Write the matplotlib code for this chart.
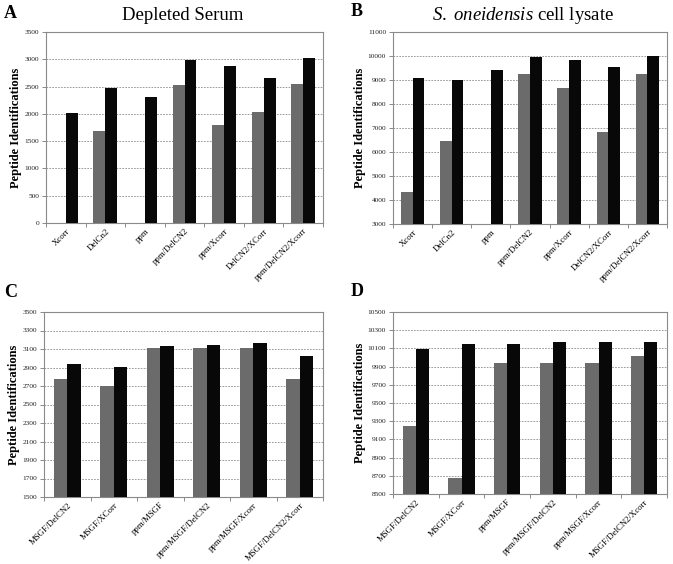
import matplotlib
matplotlib.use("Agg")
import matplotlib.pyplot as plt
import numpy as np

W, H = 673, 564

cats_ab = ["Xcorr", "DelCn2", "ppm", "ppm/DelCN2", "ppm/Xcorr", "DelCN2/XCorr", "ppm/DelCN2/Xcorr"]
cats_cd = ["MSGF/DelCN2", "MSGF/XCorr", "ppm/MSGF", "ppm/MSGF/DelCN2", "ppm/MSGF/Xcorr", "MSGF/DelCN2/Xcorr"]

a_gray = [0, 1680, 0, 2530, 1790, 2030, 2550]
a_black = [2020, 2470, 2310, 2980, 2880, 2650, 3020]
b_gray = [4350, 6450, 3020, 9260, 8680, 6820, 9260]
b_black = [9100, 9010, 9400, 9940, 9830, 9550, 10000]
c_gray = [2780, 2700, 3110, 3110, 3110, 2780]
c_black = [2935, 2910, 3135, 3140, 3160, 3025]
d_gray = [9250, 8680, 9935, 9935, 9935, 10015]
d_black = [10090, 10145, 10150, 10175, 10165, 10165]

a_ticks = list(range(0, 3501, 500))
b_ticks = list(range(3000, 11001, 1000))
c_ticks = list(range(1500, 3501, 200))
d_ticks = list(range(8500, 10501, 200))

GRAY = "#6b6b6b"
BLACK = "#080808"
SERIF = "Liberation Serif"

plt.rcParams["mathtext.fontset"] = "custom"
plt.rcParams["mathtext.rm"] = "Liberation Serif"
plt.rcParams["mathtext.it"] = "Liberation Serif:italic"

fig = plt.figure(figsize=(W / 100, H / 100), dpi=100)
fig.patch.set_facecolor("white")


def make_ax(px_left, px_top, px_right, px_bottom):
    return fig.add_axes([px_left / W, 1 - px_bottom / H, (px_right - px_left) / W, (px_bottom - px_top) / H])


def draw(ax, cats, gray, black, ticks, bw):
    n = len(cats)
    x = np.arange(n)
    ax.bar(x - bw / 2, gray, width=bw, color=GRAY, zorder=3, linewidth=0)
    ax.bar(x + bw / 2, black, width=bw, color=BLACK, zorder=3, linewidth=0)
    ax.set_xlim(-0.5, n - 0.5)
    ax.set_ylim(ticks[0], ticks[-1])
    ax.set_yticks(ticks)
    ax.set_yticklabels([str(t) for t in ticks], fontsize=5.3, family=SERIF, color="#222222")
    ax.set_xticks(np.arange(n + 1) - 0.5)
    ax.set_xticklabels([])
    ax.set_xticks(x, minor=True)
    ax.set_xticklabels(cats, minor=True, rotation=45, ha="right", rotation_mode="anchor",
                       fontsize=6.3, family=SERIF)
    ax.tick_params(axis="x", which="minor", length=0, pad=3)
    ax.tick_params(axis="x", which="major", length=3, width=0.6, color="#777777", direction="out")
    ax.tick_params(axis="y", length=3, width=0.6, color="#777777", pad=2)
    ax.yaxis.grid(True, linestyle=(0, (2, 1.5)), color="#8a8a8a", linewidth=0.6, zorder=0)
    ax.set_axisbelow(True)
    for s in ax.spines.values():
        s.set_color("#8a8a8a")
        s.set_linewidth(0.8)
    ax.set_ylabel("Peptide Identifications", fontsize=9, fontweight="bold", family=SERIF, labelpad=1.5)


axA = make_ax(46, 32, 323, 223)
draw(axA, cats_ab, a_gray, a_black, a_ticks, 0.3)
axB = make_ax(393, 32, 667, 224)
draw(axB, cats_ab, b_gray, b_black, b_ticks, 0.3)
axC = make_ax(44, 312, 323, 497)
draw(axC, cats_cd, c_gray, c_black, c_ticks, 0.29)
axD = make_ax(393, 312, 667, 494)
draw(axD, cats_cd, d_gray, d_black, d_ticks, 0.29)

fig.text(183 / W, 1 - 15 / H, "Depleted Serum", ha="center", va="center", fontsize=13.5, family=SERIF)
fig.text(523 / W, 1 - 15 / H, r"$S.\ oneidensis$ cell lysate", ha="center", va="center",
         fontsize=13.5, family=SERIF)

for lbl, px, py in [("A", 4, 13), ("B", 351, 11), ("C", 4, 293), ("D", 351, 292)]:
    fig.text(px / W, 1 - py / H, lbl, ha="left", va="center", fontsize=13, fontweight="bold", family=SERIF)

fig.savefig("out.png", dpi=100)
